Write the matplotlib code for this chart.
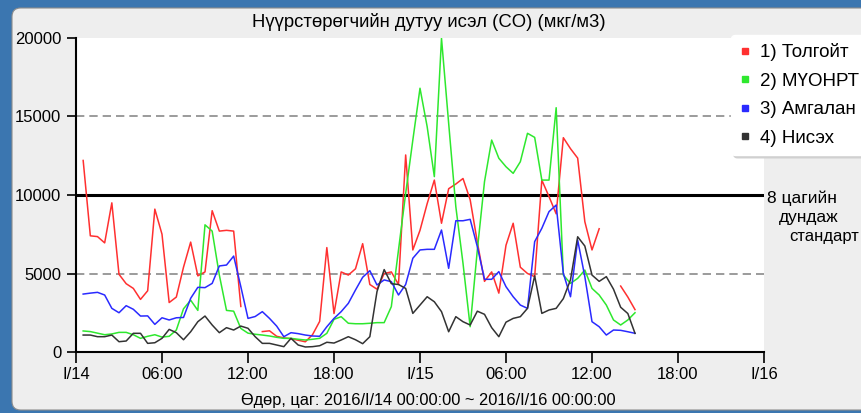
import matplotlib.pyplot as plt
import matplotlib.dates as mdates
import numpy as np
import pandas as pd
from matplotlib.lines import Line2D
from matplotlib.patches import FancyBboxPatch

plt.rcParams.update(
    {
        "font.family": ["Liberation Sans", "DejaVu Sans"],
        "font.size": 12,
        "xtick.labelsize": 12,
        "ytick.labelsize": 12,
    }
)

# half-hourly readings, 2016-01-14 00:30 .. 2016-01-15 15:00
times = pd.date_range("2016-01-14 00:30", "2016-01-15 15:00", freq="30min")

tolgoit = [
    12200, 7400, 7350, 6950, 9500, 4950, 4350, 4050, 3350, 3900,
    9100, 7500, 3150, 3500, 5400, 7000, 4850, 5100, 9000, 7700,
    7750, 7700, 2900, np.nan, np.nan, 1300, 1350, 1000, 900, 850,
    750, 650, 1100, 1950, 6650, 2450, 5100, 4900, 5300, 6900,
    4300, 4000, 5000, 5100, 4300, 12550, 6500, 7750, 9450, 10950,
    8200, 10400, 10700, 11050, 9700, 7000, 4500, 5100, 3750, 6800,
    8200, 5400, 5000, 4800, 10950, 9900, 8800, 13650, 12950, 12350,
    8300, 6500, 7850, np.nan, np.nan, 4200, 3500, 2700,
]
muonrt = [
    1340, 1300, 1200, 1100, 1150, 1250, 1250, 1100, 870, 1000,
    1100, 950, 1000, 1400, 2750, 3300, 2650, 8100, 7700, 4900,
    2650, 2600, 1500, 1200, 1130, 1080, 1020, 935, 870, 870,
    810, 764, 810, 870, 1190, 2080, 2250, 1830, 1800, 1800,
    1830, 1870, 1870, 2890, 6500, 10100, 13500, 16800, 14350, 11170,
    19980, 14560, 9250, 5650, 1610, 6500, 10850, 13500, 12340, 11800,
    11380, 12120, 13930, 13670, 10950, 10950, 15560, 4900, 4370, 4690,
    5220, 4050, 3630, 2990, 2040, 1720, 2040, 2500,
]
amgalan = [
    3690, 3750, 3800, 3630, 2780, 2500, 2950, 2720, 2290, 2300,
    1760, 2180, 2040, 2180, 2200, 3420, 4120, 4100, 4370, 5480,
    5540, 6110, 4160, 2140, 2260, 2570, 2140, 1650, 975, 1230,
    1170, 1080, 1020, 1000, 1610, 2140, 2570, 3100, 3950, 4760,
    5180, 4270, 4590, 4480, 3630, 4300, 5970, 6500, 6540, 6540,
    7770, 5330, 8360, 8360, 8450, 6710, 4630, 4630, 5120, 4160,
    3520, 2990, 2780, 7030, 7880, 8940, 9360, 5010, 3520, 7130,
    4800, 1930, 1610, 1080, 1400, 1380, 1290, 1190,
]
nisekh = [
    1080, 1080, 975, 975, 1080, 655, 700, 1190, 1190, 550,
    590, 870, 1440, 1230, 780, 1290, 1930, 2290, 1720, 1230,
    1550, 1400, 1650, 1510, 975, 550, 550, 445, 340, 870,
    445, 320, 340, 400, 620, 570, 764, 975, 780, 530,
    975, 3850, 5250, 4350, 4300, 4050, 2460, 2990, 3520, 3200,
    2570, 1290, 2250, 1930, 1720, 2600, 2400, 1550, 975, 1900,
    2140, 2250, 2780, 4850, 2460, 2675, 2780, 3400, 4600, 7340,
    6750, 4900, 4500, 4800, 4000, 2850, 2450, 1190,
]

series = [
    ("1) Толгойт", tolgoit, "#ff3030"),
    ("2) МҮОНРТ", muonrt, "#2ee82e"),
    ("3) Амгалан", amgalan, "#2a2aff"),
    ("4) Нисэх", nisekh, "#333333"),
]

tick_times = pd.date_range("2016-01-14", "2016-01-16", freq="6h")
tick_labels = ["I/14", "06:00", "12:00", "18:00", "I/15", "06:00", "12:00", "18:00", "I/16"]
y_ticks = [0, 5000, 10000, 15000, 20000]

W, H = 861, 413
fig = plt.figure(figsize=(W / 100, H / 100), dpi=100)
fig.patch.set_facecolor("#3b76b0")

# grey window panel behind everything
panel = FancyBboxPatch(
    (12 / W, 3 / H), 1.0, 402 / H,
    boxstyle="round,pad=0,rounding_size=0.01",
    mutation_aspect=W / H,
    transform=fig.transFigure,
    facecolor="#eeeeee", edgecolor="#8c8c8c", linewidth=0.8, zorder=-10,
)
fig.patches.append(panel)

ax = fig.add_axes([76 / W, 61 / H, 688 / W, 314 / H])
ax.set_facecolor("white")

for label, values, color in series:
    ax.plot(times, values, color=color, linewidth=1.1, zorder=3)

ax.axhline(5000, color="#8a8a8a", linestyle=(0, (5, 3)), linewidth=1.2, zorder=2)
ax.axhline(15000, color="#8a8a8a", linestyle=(0, (5, 3)), linewidth=1.2, zorder=2)
ax.axhline(10000, color="black", linewidth=2.2, zorder=2)

ax.set_xlim(tick_times[0], tick_times[-1])
ax.set_ylim(0, 20000)
ax.set_xticks(tick_times)
ax.set_xticklabels(tick_labels)
ax.set_yticks(y_ticks)
ax.set_yticklabels([str(v) for v in y_ticks])
ax.tick_params(axis="y", length=6.5, width=1.2, pad=4)
ax.tick_params(axis="x", length=8, width=1.2, pad=3)

ax.spines["top"].set_visible(False)
ax.spines["right"].set_visible(False)
ax.spines["left"].set_linewidth(1.5)
ax.spines["bottom"].set_linewidth(1.5)

fig.text(429 / W, 1 - 22 / H, "Нүүрстөрөгчийн дутуу исэл (CO) (мкг/м3)",
         ha="center", va="center", fontsize=13.3)
fig.text(428 / W, 1 - 401 / H, "Өдөр, цаг: 2016/I/14 00:00:00 ~ 2016/I/16 00:00:00",
         ha="center", va="center", fontsize=11.8)

# label for the 8-hour standard line
fig.text(767 / W, 1 - 198 / H, "8 цагийн", ha="left", va="center", fontsize=12.5)
fig.text(779 / W, 1 - 217 / H, "дундаж", ha="left", va="center", fontsize=12.5)
fig.text(789 / W, 1 - 237 / H, "стандарт", ha="left", va="center", fontsize=12)

handles = [
    Line2D([], [], color=color, marker="s", linestyle="none", markersize=5)
    for label, values, color in series
]
labels = [label for label, values, color in series]
fig.legend(
    handles, labels,
    loc="upper left", bbox_to_anchor=(731 / W, 1 - 35 / H),
    fontsize=13.5, frameon=True, fancybox=True,
    shadow={"color": "#d0d0d0", "alpha": 1.0},
    edgecolor="white", facecolor="white", framealpha=1.0,
    handlelength=0.6, handletextpad=0.5, labelspacing=0.6,
    borderpad=0.45, borderaxespad=0,
)

plt.savefig("out.png", dpi=100, facecolor=fig.get_facecolor())
plt.close(fig)
